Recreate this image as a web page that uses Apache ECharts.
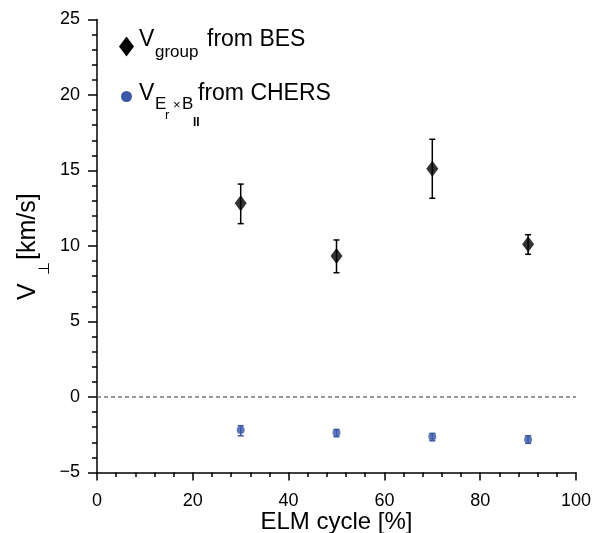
<!DOCTYPE html>
<html>
<head>
<meta charset="utf-8">
<script src="https://cdn.jsdelivr.net/npm/echarts@6/dist/echarts.min.js"></script>
<style>html,body{margin:0;padding:0;background:#fff;}#c{width:605px;height:533px;}</style>
</head>
<body>
<div id="c"></div>
<script>
// ELM cycle positions [%]
var elmCycle = [30, 50, 70, 90];
// V_group from BES [km/s]
var besValue = [12.83, 9.34, 15.12, 10.11];
var besLow = [11.48, 8.23, 13.16, 9.45];
var besHigh = [14.10, 10.40, 17.07, 10.75];
// V_ExB from CHERS [km/s]
var chersValue = [-2.19, -2.37, -2.63, -2.81];
var chersLow = [-2.57, -2.63, -2.90, -3.07];
var chersHigh = [-1.90, -2.15, -2.41, -2.57];

var xTicks = [0, 20, 40, 60, 80, 100];
var yTicks = [-5, 0, 5, 10, 15, 20, 25];

var FONT = '"Liberation Sans", Arial, Helvetica, sans-serif';
var BLUE = '#3b57a8';

function pts(v) { return elmCycle.map(function (x, i) { return [x, v[i]]; }); }
function errs(lo, hi) { return elmCycle.map(function (x, i) { return [x, lo[i], hi[i]]; }); }

function errRender(color, cap) {
  return function (params, api) {
    var x = api.value(0);
    var lo = api.coord([x, api.value(1)]);
    var hi = api.coord([x, api.value(2)]);
    var st = { stroke: color, lineWidth: 1.5, fill: null };
    return {
      type: 'group',
      children: [
        { type: 'line', shape: { x1: lo[0], y1: lo[1], x2: hi[0], y2: hi[1] }, style: st },
        { type: 'line', shape: { x1: lo[0] - cap, y1: lo[1], x2: lo[0] + cap, y2: lo[1] }, style: st },
        { type: 'line', shape: { x1: hi[0] - cap, y1: hi[1], x2: hi[0] + cap, y2: hi[1] }, style: st }
      ]
    };
  };
}

function txt(x, y, s, size, extra) {
  var o = { type: 'text', x: x, y: y - 0.35 * size,
    style: { text: s, font: size + 'px ' + FONT, fill: '#000', verticalAlign: 'middle', align: 'left' } };
  if (extra) { for (var k in extra) o.style[k] = extra[k]; }
  return o;
}

function minusFmt(v) { return String(v).replace('-', '\u2212'); }

var chart = echarts.init(document.getElementById('c'), null, { renderer: 'canvas' });
chart.setOption({
  animation: false,
  backgroundColor: '#fff',
  grid: { left: 97, right: 29, top: 19.5, bottom: 60.5, containLabel: false, outerBoundsMode: 'none' },
  xAxis: {
    type: 'value', min: xTicks[0], max: xTicks[xTicks.length - 1], interval: 20,
    axisLine: { lineStyle: { color: '#000', width: 1.5 }, onZero: false },
    axisTick: { show: true, length: 8, inside: false, lineStyle: { color: '#000', width: 1.5 } },
    minorTick: { show: true, splitNumber: 5, length: 4.5, lineStyle: { color: '#000', width: 1.5 } },
    splitLine: { show: false },
    axisLabel: { fontFamily: FONT, fontSize: 18, color: '#000', margin: 20 },
    name: 'ELM cycle [%]', nameLocation: 'middle', nameGap: 38, nameMoveOverlap: false,
    nameTextStyle: { fontFamily: FONT, fontSize: 24, color: '#000' }
  },
  yAxis: {
    type: 'value', min: yTicks[0], max: yTicks[yTicks.length - 1], interval: 5,
    axisLine: { lineStyle: { color: '#000', width: 1.5 }, onZero: false },
    axisTick: { show: true, length: 9, inside: false, lineStyle: { color: '#000', width: 1.5 } },
    minorTick: { show: true, splitNumber: 5, length: 5, lineStyle: { color: '#000', width: 1.5 } },
    splitLine: { show: false },
    axisLabel: { fontFamily: FONT, fontSize: 18, color: '#000', margin: 17, formatter: minusFmt }
  },
  series: [
    {
      type: 'line', data: [[xTicks[0], 0], [xTicks[xTicks.length - 1], 0]], symbol: 'none',
      lineStyle: { color: '#777', width: 1.5, type: [4, 3] }, silent: true, z: 1
    },
    { type: 'custom', renderItem: errRender('#000', 3), data: errs(besLow, besHigh), z: 3 },
    { type: 'scatter', data: pts(besValue), symbol: 'diamond', symbolSize: [12, 16],
      itemStyle: { color: '#000' }, z: 4 },
    { type: 'custom', renderItem: errRender(BLUE, 3), data: errs(chersLow, chersHigh), z: 3 },
    { type: 'scatter', data: pts(chersValue), symbol: 'circle', symbolSize: 8,
      itemStyle: { color: BLUE }, z: 4 }
  ],
  graphic: [
    // legend markers
    { type: 'polygon', shape: { points: [[126.5, 36.5], [134, 46.5], [126.5, 56.5], [119, 46.5]] }, style: { fill: '#000' } },
    { type: 'circle', shape: { cx: 126.5, cy: 96.5, r: 5.5 }, style: { fill: BLUE } },
    // legend line 1
    txt(139, 48, 'V', 23),
    txt(155, 58, 'group', 17),
    txt(207, 48, 'from BES', 23),
    // legend line 2
    txt(139, 102, 'V', 23),
    txt(155, 110, 'E', 17),
    txt(165, 120, 'r', 13),
    txt(173, 110, '\u00d7', 13),
    txt(182, 110, 'B', 17),
    txt(193, 128, 'II', 14, { fontWeight: 'bold' }),
    txt(198, 102, 'from CHERS', 23),
    // y axis title (rotated)
    {
      type: 'group', x: 37, y: 300, rotation: Math.PI / 2,
      children: [
        txt(0, 0, 'V', 25),
        txt(25, 13, '\u22a5', 15),
        txt(40, 0, '[km/s]', 25)
      ]
    }
  ]
});
</script>
</body>
</html>
